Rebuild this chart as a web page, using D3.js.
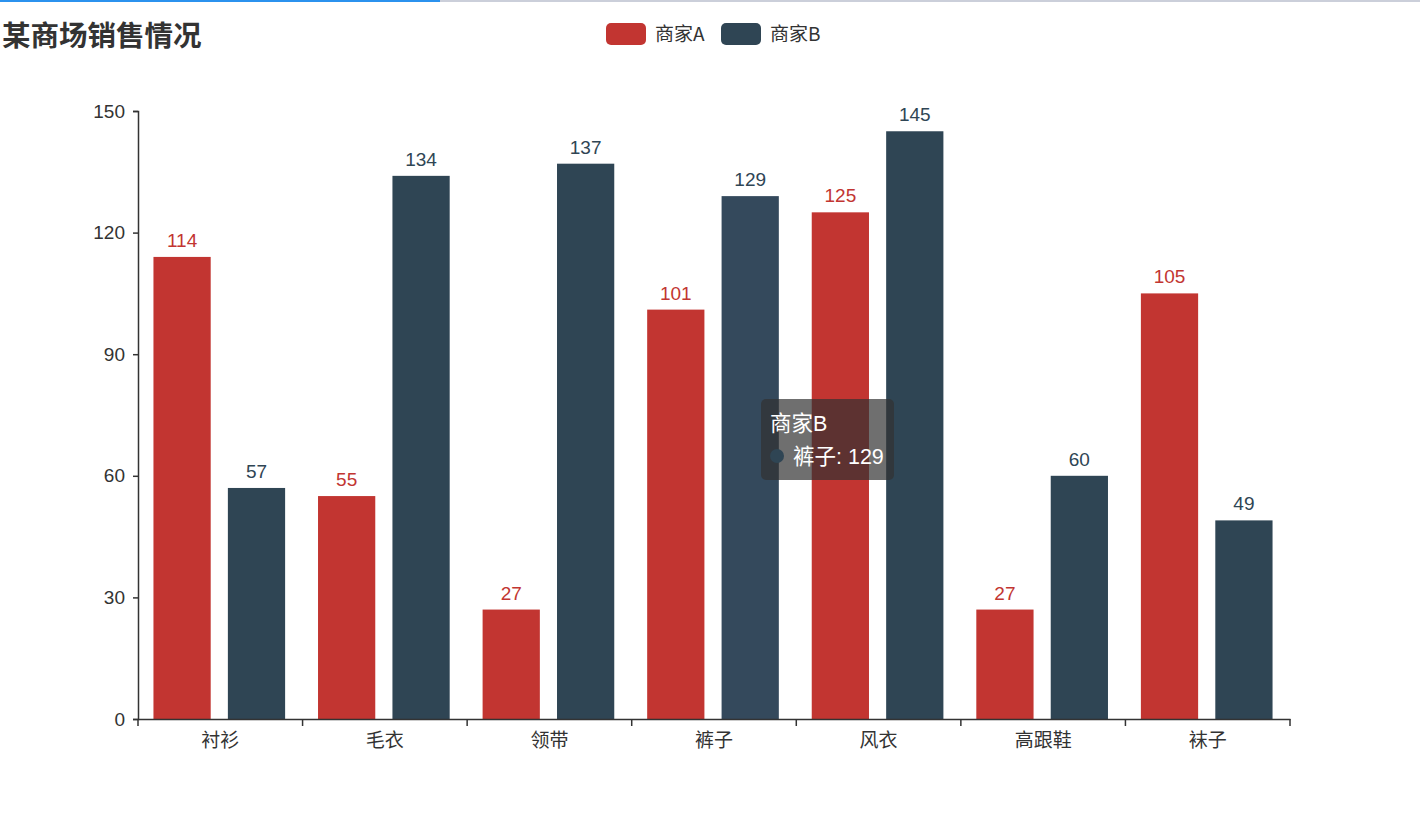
<!DOCTYPE html>
<html>
<head>
<meta charset="utf-8">
<script src="https://cdn.jsdelivr.net/npm/d3@7"></script>
<style>
  body { margin: 0; background: #fff; font-family: "Liberation Sans", "Noto Sans CJK SC", sans-serif; }
</style>
</head>
<body>
<div id="chart"></div>
<script>
const categories = ["衬衫", "毛衣", "领带", "裤子", "风衣", "高跟鞋", "袜子"];
const seriesNames = ["商家A", "商家B"];
const valuesA = [114, 55, 27, 101, 125, 27, 105];
const valuesB = [57, 134, 137, 129, 145, 60, 49];
const yTicks = [0, 30, 60, 90, 120, 150];
const colors = ["#c23531", "#2f4554"];

const W = 1420, H = 816;
const margin = {top: 111, right: 130, bottom: 97, left: 138};

const svg = d3.select("#chart").append("svg")
    .attr("width", W).attr("height", H)
    .style("font-family", "'Liberation Sans', 'Noto Sans CJK SC', sans-serif");

// progress strip at top
svg.append("rect").attr("x", 0).attr("y", 0).attr("width", W).attr("height", 2).attr("fill", "#cbcfda");
svg.append("rect").attr("x", 0).attr("y", 0).attr("width", 440).attr("height", 2).attr("fill", "#2b92ee");

// title
svg.append("text")
    .attr("x", 2).attr("y", 46)
    .style("font-size", "28.5px").style("font-weight", "bold")
    .attr("fill", "#333")
    .style("font-family", "'Noto Sans CJK SC', sans-serif")
    .text("某商场销售情况");

// legend
const legend = svg.append("g");
seriesNames.forEach((name, i) => {
  const gx = 606 + i * 115;
  legend.append("rect")
      .attr("x", gx).attr("y", 23).attr("width", 40).attr("height", 22)
      .attr("rx", 5).attr("fill", colors[i]);
  legend.append("text")
      .attr("x", gx + 49).attr("y", 41)
      .style("font-size", "19px").attr("fill", "#333")
      .style("font-family", "'Noto Sans CJK SC', sans-serif")
      .text(name);
});

const x = d3.scaleBand()
    .domain(categories)
    .range([margin.left, W - margin.right]);

const y = d3.scaleLinear()
    .domain([0, 150])
    .range([H - margin.bottom, margin.top]);

// bar layout: ~20% category gap, 30% bar gap
const bw = x.bandwidth() * 0.8 / 2.3;
const offsets = [x.bandwidth() * 0.1 - 1, x.bandwidth() * 0.1 - 1 + bw * 1.3];

// Y axis
const yAxis = svg.append("g")
    .attr("transform", "translate(" + margin.left + ",0)")
    .call(d3.axisLeft(y).tickValues(yTicks).tickSize(5).tickPadding(8));
yAxis.select(".domain").attr("stroke", "#333").attr("stroke-width", 1.5);
yAxis.selectAll(".tick line").attr("stroke", "#333").attr("stroke-width", 1.5);
yAxis.selectAll(".tick text").style("font-size", "19px").attr("fill", "#333");

// bars
const series = [valuesA, valuesB];
series.forEach((vals, si) => {
  const g = svg.append("g");
  g.selectAll("rect")
    .data(vals)
    .enter().append("rect")
      .attr("x", (d, i) => x(categories[i]) + offsets[si])
      .attr("y", d => y(d))
      .attr("width", bw)
      .attr("height", d => y(0) - y(d))
      .attr("fill", (d, i) => (si === 1 && categories[i] === "裤子") ? "#34495c" : colors[si]);
  g.selectAll("text")
    .data(vals)
    .enter().append("text")
      .attr("x", (d, i) => x(categories[i]) + offsets[si] + bw / 2)
      .attr("y", d => y(d) - 10)
      .attr("text-anchor", "middle")
      .style("font-size", "19px")
      .attr("fill", colors[si])
      .text(d => d);
});

// X axis
const xAxis = svg.append("g")
    .attr("transform", "translate(0," + y(0) + ")")
    .call(d3.axisBottom(x).tickSize(0).tickPadding(12));
xAxis.select(".domain").attr("stroke", "#333").attr("stroke-width", 1.5);
xAxis.selectAll(".tick text")
    .style("font-size", "19px").attr("fill", "#333")
    .style("font-family", "'Noto Sans CJK SC', sans-serif")
    .attr("dy", "0.85em");
xAxis.selectAll("line.band")
    .data(d3.range(categories.length + 1))
    .enter().append("line")
      .attr("class", "band")
      .attr("x1", i => margin.left + i * x.step())
      .attr("x2", i => margin.left + i * x.step())
      .attr("y1", 0).attr("y2", 7)
      .attr("stroke", "#333").attr("stroke-width", 1.5);

// tooltip for 商家B / 裤子
const tipCat = "裤子";
const tipVal = valuesB[categories.indexOf(tipCat)];
const tip = svg.append("g").attr("transform", "translate(761,399)");
tip.append("rect")
    .attr("width", 133).attr("height", 81).attr("rx", 5)
    .attr("fill", "rgba(50,50,50,0.7)");
tip.append("text")
    .attr("x", 9).attr("y", 32)
    .style("font-size", "21.5px").attr("fill", "#fff")
    .text(seriesNames[1]);
tip.append("circle")
    .attr("cx", 16).attr("cy", 57).attr("r", 7)
    .attr("fill", colors[1]);
tip.append("text")
    .attr("x", 32).attr("y", 65)
    .style("font-size", "21.5px").attr("fill", "#fff")
    .text(tipCat + ": " + tipVal);
</script>
</body>
</html>
